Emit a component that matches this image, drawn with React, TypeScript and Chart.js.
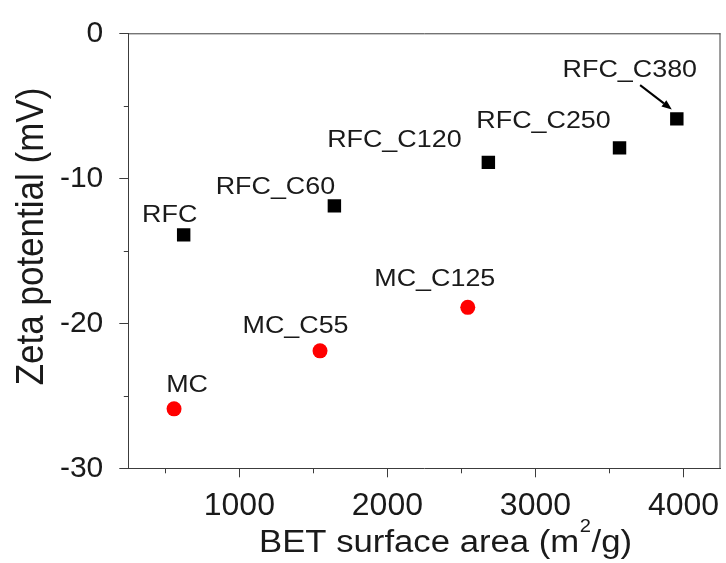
import React, { useEffect, useRef } from 'react';
import { Chart, registerables } from 'chart.js';

Chart.register(...registerables);

// ---- data ----
const rfcNames = ['RFC', 'RFC_C60', 'RFC_C120', 'RFC_C250', 'RFC_C380'];
const rfcArea = [624, 1642, 2682, 3568, 3955];
const rfcZeta = [-13.9, -11.9, -8.9, -7.9, -5.9];

const mcNames = ['MC', 'MC_C55', 'MC_C125'];
const mcArea = [559, 1545, 2543];
const mcZeta = [-25.9, -21.9, -18.9];

const xMajorTicks = [1000, 2000, 3000, 4000];
const xMinorTicks = [500, 1500, 2500, 3500];
const yMajorTicks = [-30, -20, -10, 0];
const yMinorTicks = [-25, -15, -5];

const xTitleParts = ['BET surface area (m', '2', '/g)'];
const yTitle = 'Zeta potential (mV)';

// ---- styling / placement (not data) ----
const FONT = '"Liberation Sans", Arial, sans-serif';
const STRETCH = 1.12;
const TEXT_COLOR = '#1a1a1a';
const AXIS_COLOR = '#3c3c3c';
const rfcLabelOffsets: [number, number][] = [[-14, -12.6], [-59, -12], [-94, -15], [-76, -20], [-47, -42]];
const mcLabelOffsets: [number, number][] = [[13, -16.6], [-24.5, -18.3], [-33, -21]];

function drawStretchedText(ctx: CanvasRenderingContext2D, text: string, x: number, y: number, size: number, align: CanvasTextAlign) {
  ctx.save();
  ctx.translate(x, y);
  ctx.scale(STRETCH, 1);
  ctx.font = `${size}px ${FONT}`;
  ctx.fillStyle = TEXT_COLOR;
  ctx.textAlign = align;
  ctx.textBaseline = 'alphabetic';
  ctx.fillText(text, 0, 0);
  ctx.restore();
}

const decorPlugin = {
  id: 'decor',
  afterDatasetsDraw(chart: any) {
    const ctx: CanvasRenderingContext2D = chart.ctx;
    const { left, right, top, bottom } = chart.chartArea;
    const xs = chart.scales.x;
    const ys = chart.scales.y;
    ctx.save();
    // frame top + right
    ctx.strokeStyle = AXIS_COLOR;
    ctx.lineWidth = 1;
    ctx.beginPath();
    ctx.moveTo(left, top + 0.5);
    ctx.lineTo(right, top + 0.5);
    ctx.moveTo(right - 0.5, top);
    ctx.lineTo(right - 0.5, bottom);
    ctx.stroke();
    // ticks
    ctx.beginPath();
    xMajorTicks.forEach((v) => {
      const px = Math.round(xs.getPixelForValue(v)) + 0.5;
      ctx.moveTo(px, bottom);
      ctx.lineTo(px, bottom + 9);
    });
    xMinorTicks.forEach((v) => {
      const px = Math.round(xs.getPixelForValue(v)) + 0.5;
      ctx.moveTo(px, bottom);
      ctx.lineTo(px, bottom + 5);
    });
    yMajorTicks.forEach((v) => {
      const py = Math.round(ys.getPixelForValue(v)) + 0.5;
      ctx.moveTo(left, py);
      ctx.lineTo(left - 9, py);
    });
    yMinorTicks.forEach((v) => {
      const py = Math.round(ys.getPixelForValue(v)) + 0.5;
      ctx.moveTo(left, py);
      ctx.lineTo(left - 4.5, py);
    });
    ctx.stroke();

    // point labels
    rfcNames.forEach((name, i) => {
      const px = xs.getPixelForValue(rfcArea[i]);
      const py = ys.getPixelForValue(rfcZeta[i]);
      const [dx, dy] = rfcLabelOffsets[i];
      drawStretchedText(ctx, name, px + dx, py + dy, 24, 'center');
    });
    mcNames.forEach((name, i) => {
      const px = xs.getPixelForValue(mcArea[i]);
      const py = ys.getPixelForValue(mcZeta[i]);
      const [dx, dy] = mcLabelOffsets[i];
      drawStretchedText(ctx, name, px + dx, py + dy, 24, 'center');
    });

    // arrow to RFC_C380
    {
      const last = rfcNames.length - 1;
      const px = xs.getPixelForValue(rfcArea[last]);
      const py = ys.getPixelForValue(rfcZeta[last]);
      const x1 = px - 36.7, y1 = py - 33.7, x2 = px - 5, y2 = py - 9.4;
      const ang = Math.atan2(y2 - y1, x2 - x1);
      const hl = 10, hw = 4;
      const bx = x2 - hl * Math.cos(ang), by = y2 - hl * Math.sin(ang);
      ctx.strokeStyle = '#000';
      ctx.fillStyle = '#000';
      ctx.lineWidth = 2;
      ctx.beginPath();
      ctx.moveTo(x1, y1);
      ctx.lineTo(bx, by);
      ctx.stroke();
      ctx.beginPath();
      ctx.moveTo(x2, y2);
      ctx.lineTo(bx + hw * Math.sin(ang), by - hw * Math.cos(ang));
      ctx.lineTo(bx - hw * Math.sin(ang), by + hw * Math.cos(ang));
      ctx.closePath();
      ctx.fill();
    }

    // x title with superscript
    {
      const base = 551.7;
      let x = 259;
      const big = 31, small = 18;
      ctx.font = `${big}px ${FONT}`;
      const w0 = ctx.measureText(xTitleParts[0]).width * STRETCH;
      drawStretchedText(ctx, xTitleParts[0], x, base, big, 'left');
      x += w0;
      ctx.font = `${small}px ${FONT}`;
      const w1 = ctx.measureText(xTitleParts[1]).width * STRETCH;
      drawStretchedText(ctx, xTitleParts[1], x + 0.5, base - 20, small, 'left');
      x += w1 + 1;
      drawStretchedText(ctx, xTitleParts[2], x, base, big, 'left');
    }

    // y title rotated
    {
      ctx.save();
      ctx.translate(43, 236.5);
      ctx.scale(STRETCH, 1);
      ctx.rotate(-Math.PI / 2);
      ctx.font = `35px ${FONT}`;
      ctx.fillStyle = TEXT_COLOR;
      ctx.textAlign = 'center';
      ctx.textBaseline = 'alphabetic';
      ctx.fillText(yTitle, 0, 0);
      ctx.restore();
    }
    ctx.restore();
  },
};

export default function App() {
  const canvasRef = useRef<HTMLCanvasElement | null>(null);

  useEffect(() => {
    if (!canvasRef.current) return;
    const chart = new Chart(canvasRef.current, {
      type: 'scatter',
      data: {
        datasets: [
          {
            label: 'RFC',
            data: rfcArea.map((x, i) => ({ x, y: rfcZeta[i] })),
            pointStyle: 'rect',
            pointRadius: 9.5,
            pointHoverRadius: 9.5,
            backgroundColor: '#000000',
            borderColor: '#000000',
            borderWidth: 0,
          },
          {
            label: 'MC',
            data: mcArea.map((x, i) => ({ x, y: mcZeta[i] })),
            pointStyle: 'circle',
            pointRadius: 7.5,
            pointHoverRadius: 7.5,
            backgroundColor: '#ff0000',
            borderColor: '#ff0000',
            borderWidth: 0,
          },
        ],
      },
      options: {
        responsive: false,
        animation: false,
        devicePixelRatio: 1,
        layout: { autoPadding: false, padding: { left: 0, top: 33.3, right: 5.5, bottom: 0 } },
        plugins: { legend: { display: false }, tooltip: { enabled: false } },
        scales: {
          x: {
            type: 'linear',
            position: 'bottom',
            min: 250,
            max: 4250,
            grid: { display: false },
            border: { display: true, color: AXIS_COLOR, width: 1 },
            ticks: {
              font: { family: FONT, size: 32 },
              color: TEXT_COLOR,
              padding: 11,
              maxRotation: 0,
              autoSkip: false,
              callback: (v: any) => String(v),
            },
            afterBuildTicks: (s: any) => {
              s.ticks = xMajorTicks.map((v) => ({ value: v }));
            },
            afterFit: (s: any) => {
              s.height = 94.7;
              s.paddingLeft = 0;
              s.paddingRight = 0;
            },
          },
          y: {
            type: 'linear',
            min: -30,
            max: 0,
            grid: { display: false },
            border: { display: true, color: AXIS_COLOR, width: 1 },
            ticks: {
              font: { family: FONT, size: 30 },
              color: TEXT_COLOR,
              padding: 17,
              autoSkip: false,
              callback: (v: any) => String(v),
            },
            afterBuildTicks: (s: any) => {
              s.ticks = yMajorTicks.map((v) => ({ value: v }));
            },
            afterFit: (s: any) => {
              s.width = 128.3;
              s.paddingTop = 0;
              s.paddingBottom = 0;
            },
          },
        },
      },
      plugins: [decorPlugin],
    });
    return () => chart.destroy();
  }, []);

  return (
    <div style={{ position: 'fixed', left: 0, top: 0, width: 726, height: 563, background: '#fff' }}>
      <canvas ref={canvasRef} width={726} height={563} style={{ display: 'block' }} />
    </div>
  );
}
